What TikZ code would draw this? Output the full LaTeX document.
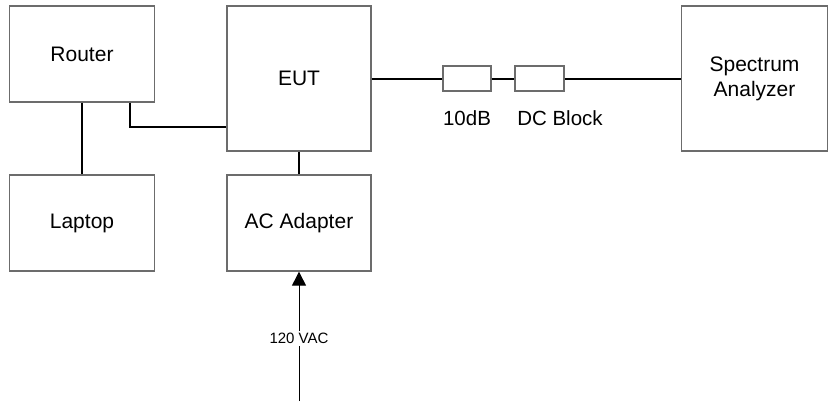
\documentclass[tikz,border=0pt]{standalone}
\usepackage{fontspec}
\setmainfont{Liberation Sans}
\usetikzlibrary{arrows.meta}
\begin{document}
\begin{tikzpicture}[x=1pt,y=-1pt,
  box/.style={draw=gray!85!black,line width=1.3pt,inner sep=0pt,align=center,font=\fontsize{21}{25}\selectfont},
  small/.style={draw=gray!85!black,line width=1.3pt,inner sep=0pt,minimum width=48pt,minimum height=25pt},
  lbl/.style={font=\fontsize{20.5}{24}\selectfont,inner sep=0pt},
  conn/.style={line width=2pt,black}]
\useasboundingbox (0,0) rectangle (829,402);
\node[box,minimum width=145pt,minimum height=96pt] (router) at (82,54) {Router};
\node[box,minimum width=145pt,minimum height=96pt] (laptop) at (82,223) {Laptop};
\node[box,minimum width=144pt,minimum height=145pt] (eut) at (299,78.5) {EUT};
\node[box,minimum width=144pt,minimum height=96pt] (ac) at (299,223) {AC Adapter};
\node[box,minimum width=146pt,minimum height=145pt] (spec) at (754.5,78.5) {Spectrum\\Analyzer};
\node[small] (att) at (467,78.5) {};
\node[small,minimum width=49pt] (dcb) at (539.5,78.5) {};
\node[lbl] (attl) at (467,118) {10dB};
\node[lbl] (dcbl) at (560,118) {DC Block};
\draw[conn] (router.south) -- (laptop.north);
\draw[conn] (eut.south) -- (ac.north);
\draw[conn] ([xshift=48pt]router.south) |- (eut.west |- 0,127);
\draw[conn] (eut.east |- att.west) -- (att.west);
\draw[conn] (att.east) -- (dcb.west);
\draw[conn] (dcb.east) -- (spec.west |- dcb.east);
\coordinate (acin) at (299,401);
\draw[line width=1pt,-{Triangle[length=14pt,width=14pt]}] (acin) -- (ac.south)
  node[pos=0.485,fill=white,inner sep=2pt,font=\fontsize{15}{18}\selectfont] (vac) {120 VAC};
\end{tikzpicture}
\end{document}
